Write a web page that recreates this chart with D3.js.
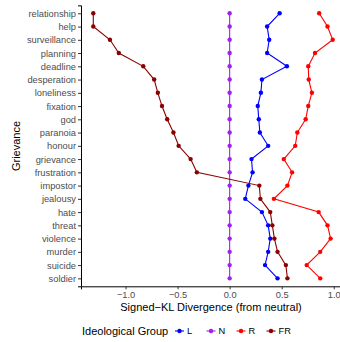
<!DOCTYPE html>
<html>
<head>
<meta charset="utf-8">
<script src="https://cdn.jsdelivr.net/npm/d3@7"></script>
<style>
  body { margin: 0; background: #fff; }
  text { font-family: "Liberation Sans", Arial, sans-serif; }
</style>
</head>
<body>
<div class="chart"></div>
<script>
var grievances = ["relationship", "help", "surveillance", "planning", "deadline", "desperation",
  "loneliness", "fixation", "god", "paranoia", "honour", "grievance", "frustration",
  "impostor", "jealousy", "hate", "threat", "violence", "murder", "suicide", "soldier"];

var groups = ["L", "N", "R", "FR"];
var groupColors = ["#0000FF", "#A020F0", "#FF0000", "#8B0000"];

var valuesL = [0.48, 0.36, 0.38, 0.36, 0.55, 0.31, 0.30, 0.27, 0.28, 0.29, 0.37,
  0.21, 0.22, 0.18, 0.15, 0.31, 0.37, 0.39, 0.37, 0.34, 0.46];
var valuesN = [0, 0, 0, 0, 0, 0, 0, 0, 0, 0, 0, 0, 0, 0, 0, 0, 0, 0, 0, 0, 0];
var valuesR = [0.86, 0.94, 0.99, 0.82, 0.755, 0.76, 0.79, 0.755, 0.73, 0.65, 0.63,
  0.52, 0.60, 0.555, 0.425, 0.855, 0.94, 0.97, 0.87, 0.74, 0.87];
var valuesFR = [-1.31, -1.31, -1.15, -1.065, -0.83, -0.725, -0.69, -0.65, -0.60, -0.54, -0.49,
  -0.375, -0.315, 0.285, 0.295, 0.39, 0.41, 0.43, 0.46, 0.54, 0.555];

var xTicks = [-1.0, -0.5, 0.0, 0.5, 1.0];

var series = [valuesL, valuesN, valuesR, valuesFR].map(function(vals, i) {
  return {
    group: groups[i],
    color: groupColors[i],
    points: vals.map(function(v, j) { return { g: grievances[j], v: v }; })
  };
});

var width = 340, height = 342;
var svg = d3.select(".chart").append("svg")
    .attr("width", width)
    .attr("height", height);

var x = d3.scaleLinear().domain([-1.428, 1.06]).range([81, 340]);
var y = d3.scalePoint().domain(grievances).range([5.35, 286.3]).padding(0.6);

// axes
var xAxis = svg.append("g")
    .attr("transform", "translate(0,286.3)")
    .call(d3.axisBottom(x).tickValues(xTicks).tickSizeOuter(0).tickSize(3)
      .tickFormat(function(d) { return d3.format(".1f")(d).replace("-", "\u2212"); }));

var yAxis = svg.append("g")
    .attr("transform", "translate(81,0)")
    .call(d3.axisLeft(y).tickSizeOuter(0).tickSize(3));

[xAxis, yAxis].forEach(function(ax) {
  ax.select(".domain").attr("stroke", "#000").attr("stroke-width", 1);
  ax.selectAll(".tick line").attr("stroke", "#333");
  ax.selectAll(".tick text")
    .attr("fill", "#4D4D4D")
    .style("font-size", "9.3px")
    .style("font-family", "'Liberation Sans', Arial, sans-serif");
});
xAxis.selectAll(".tick text").attr("dy", "0.71em").attr("y", 5);
yAxis.selectAll(".tick text").attr("x", -5);

// axis titles
svg.append("text")
    .attr("x", 211)
    .attr("y", 310.5)
    .attr("text-anchor", "middle")
    .style("font-size", "11px")
    .text("Signed\u2212KL Divergence (from neutral)");

svg.append("text")
    .attr("transform", "translate(20,146) rotate(-90)")
    .attr("text-anchor", "middle")
    .style("font-size", "11px")
    .text("Grievance");

// lines
var line = d3.line()
    .x(function(d) { return x(d.v); })
    .y(function(d) { return y(d.g); });

svg.append("g")
  .selectAll("path")
  .data(series)
  .enter().append("path")
    .attr("d", function(d) { return line(d.points); })
    .attr("fill", "none")
    .attr("stroke", function(d) { return d.color; })
    .attr("stroke-width", 1.1);

var pts = svg.append("g")
  .selectAll("g")
  .data(series)
  .enter().append("g")
    .attr("fill", function(d) { return d.color; });

pts.selectAll("circle")
  .data(function(d) { return d.points; })
  .enter().append("circle")
    .attr("cx", function(d) { return x(d.v); })
    .attr("cy", function(d) { return y(d.g); })
    .attr("r", 2.2);

// legend
var legend = svg.append("g").attr("transform", "translate(0,331)");
legend.append("text")
    .attr("x", 82)
    .attr("y", 4)
    .style("font-size", "11px")
    .text("Ideological Group");

var keyX = [175, 206.5, 236.5, 266.5];
var key = legend.selectAll(".key")
  .data(series)
  .enter().append("g")
    .attr("class", "key")
    .attr("transform", function(d, i) { return "translate(" + keyX[i] + ",0)"; });

key.append("line")
    .attr("x1", 0).attr("x2", 9)
    .attr("stroke", function(d) { return d.color; })
    .attr("stroke-width", 1.1);
key.append("circle")
    .attr("cx", 4.5)
    .attr("r", 2.2)
    .attr("fill", function(d) { return d.color; });
key.append("text")
    .attr("x", 12)
    .attr("y", 3.3)
    .style("font-size", "9.3px")
    .text(function(d) { return d.group; });
</script>
</body>
</html>
